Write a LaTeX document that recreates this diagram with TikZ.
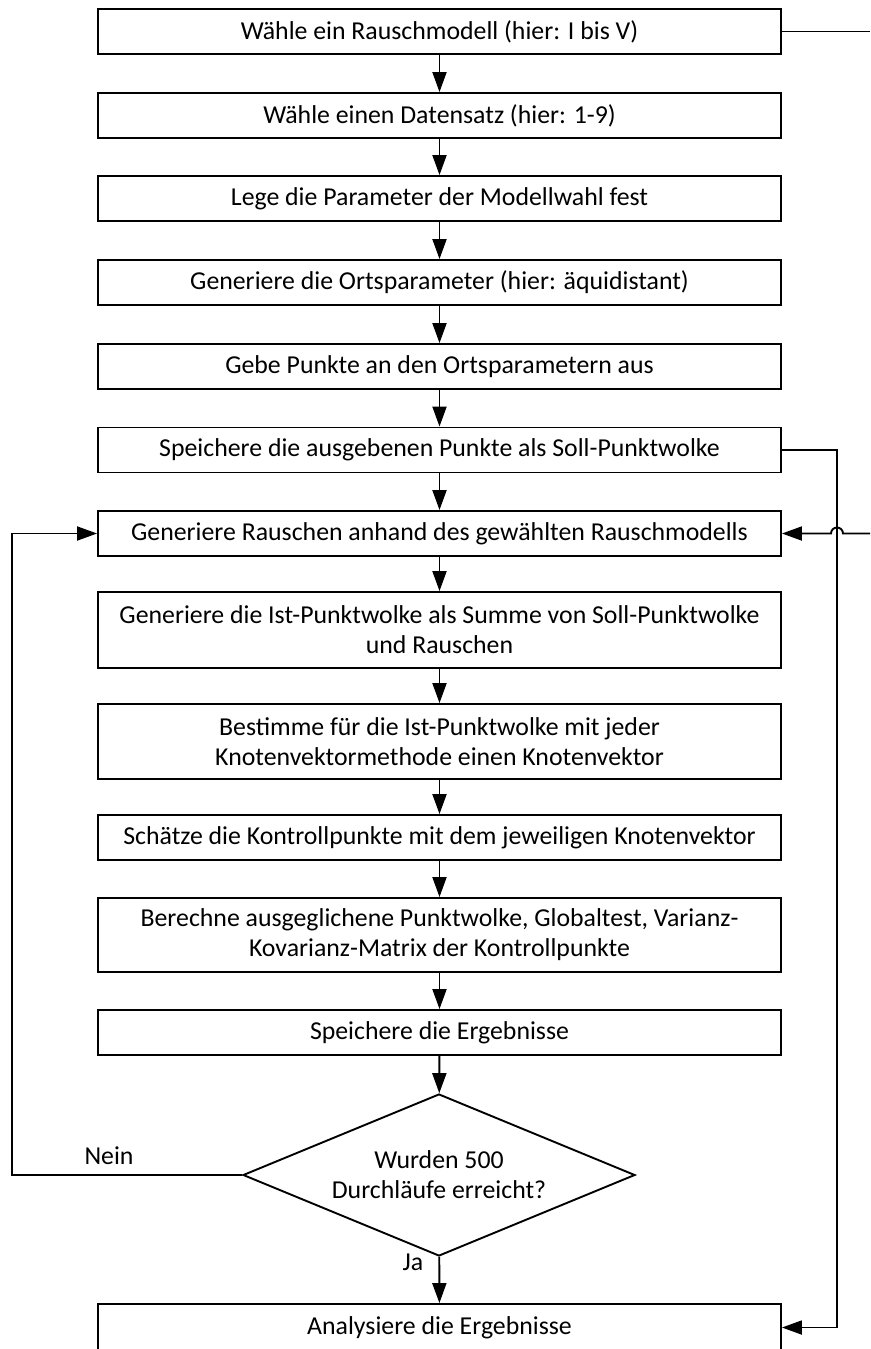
\documentclass[tikz,border=0pt]{standalone}
\usepackage{fontspec}
\setmainfont{Carlito}
\usetikzlibrary{arrows.meta,shapes.geometric}

\begin{document}
\begin{tikzpicture}[x=1pt, y=-1pt, line width=1.9pt,
  stepbox/.style={draw, minimum width=683pt, minimum height=45pt, inner sep=0pt,
                  align=center, font=\fontsize{25.8}{30}\selectfont},
  decision/.style={draw, diamond, aspect=2.42, minimum width=392pt, minimum height=162pt,
                   inner sep=0pt, align=center, font=\fontsize{25.8}{30}\selectfont},
  lbl/.style={inner sep=0pt, anchor=base, font=\fontsize{25.8}{30}\selectfont},
  flow/.style={-{Triangle[length=20pt,width=14pt]}}]

  \useasboundingbox (0,0) rectangle (870,1349);
  \clip (0,0) rectangle (870,1349);

  % process steps
  \node[stepbox] (b1)  at (439.5,31.5)  {Wähle ein Rauschmodell (hier: I bis V)};
  \node[stepbox] (b2)  at (439.5,115.5) {Wähle einen Datensatz (hier: 1-9)};
  \node[stepbox] (b3)  at (439.5,198.5) {Lege die Parameter der Modellwahl fest};
  \node[stepbox] (b4)  at (439.5,282.5) {Generiere die Ortsparameter (hier: äquidistant)};
  \node[stepbox] (b5)  at (439.5,366.5) {Gebe Punkte an den Ortsparametern aus};
  \node[stepbox] (b6)  at (439.5,450)   {Speichere die ausgebenen Punkte als Soll-Punktwolke};
  \node[stepbox] (b7)  at (439.5,533.5) {Generiere Rauschen anhand des gewählten Rauschmodells};
  \node[stepbox, minimum height=76pt] (b8) at (439.5,630)
    {Generiere die Ist-Punktwolke als Summe von Soll-Punktwolke\\und Rauschen};
  \node[stepbox, minimum height=75pt] (b9) at (439.5,741.5)
    {Bestimme für die Ist-Punktwolke mit jeder\\Knotenvektormethode einen Knotenvektor};
  \node[stepbox] (b10) at (439.5,837.5) {Schätze die Kontrollpunkte mit dem jeweiligen Knotenvektor};
  \node[stepbox, minimum height=74pt] (b11) at (439.5,935)
    {Berechne ausgeglichene Punktwolke, Globaltest, Varianz-\\Kovarianz-Matrix der Kontrollpunkte};
  \node[stepbox] (b12) at (439.5,1032.5) {Speichere die Ergebnisse};
  \node[decision] (d) at (439,1175) {Wurden 500\\Durchläufe erreicht?};
  \node[stepbox, minimum height=47pt] (b13) at (439.5,1327.5) {Analysiere die Ergebnisse};

  % branch labels
  \node[lbl] (nein) at (109,1164) {Nein};
  \node[lbl] (ja)   at (413,1270) {Ja};

  % main sequence
  \draw[flow] (b1) -- (b2);
  \draw[flow] (b2) -- (b3);
  \draw[flow] (b3) -- (b4);
  \draw[flow] (b4) -- (b5);
  \draw[flow] (b5) -- (b6);
  \draw[flow] (b6) -- (b7);
  \draw[flow] (b7) -- (b8);
  \draw[flow] (b8) -- (b9);
  \draw[flow] (b9) -- (b10);
  \draw[flow] (b10) -- (b11);
  \draw[flow] (b11) -- (b12);
  \draw[flow] (b12) -- (d);
  \draw[flow] (d) -- (b13);

  % repeat loop
  \coordinate (loopL) at (12,1175);
  \draw[flow] (d.west) -- (loopL) |- (b7.west);

  % outer loop over noise models
  \coordinate (outA) at (870,31.5);
  \coordinate (inA)  at (870,533.5);
  \draw (b1.east) -- (outA);
  \draw[flow] (inA) -- (843,533.5) arc[start angle=0, end angle=-180, radius=6] -- (b7.east);

  % reference cloud to analysis
  \coordinate (railR) at (837,450);
  \draw[flow] (b6.east) -- (railR) |- (b13.east);
\end{tikzpicture}
\end{document}
